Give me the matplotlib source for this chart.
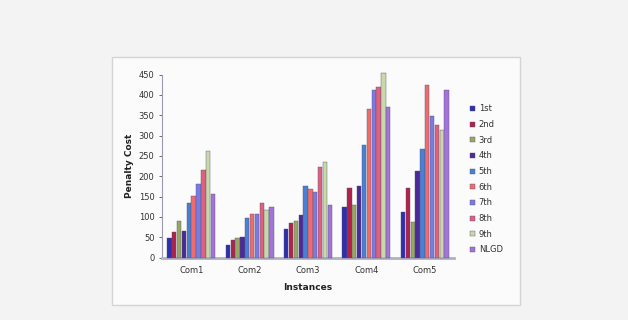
import numpy as np
import matplotlib
matplotlib.use('Agg')
import matplotlib.pyplot as plt
from matplotlib.patches import Rectangle

instances = ['Com1', 'Com2', 'Com3', 'Com4', 'Com5']
series_names = ['1st', '2nd', '3rd', '4th', '5th', '6th', '7th', '8th', '9th', 'NLGD']

# rows = series, columns = instances
cost_1st = [48, 30, 71, 124, 112]
cost_2nd = [64, 44, 85, 170, 170]
cost_3rd = [89, 47, 91, 129, 87]
cost_4th = [66, 51, 104, 176, 212]
cost_5th = [135, 97, 177, 276, 268]
cost_6th = [152, 107, 168, 365, 425]
cost_7th = [181, 108, 162, 412, 348]
cost_8th = [216, 134, 222, 420, 326]
cost_9th = [261, 116, 235, 453, 313]
cost_nlgd = [157, 124, 129, 371, 411]

all_costs = [cost_1st, cost_2nd, cost_3rd, cost_4th, cost_5th,
             cost_6th, cost_7th, cost_8th, cost_9th, cost_nlgd]

colors = ['#2e2fae', '#b3204c', '#98a85e', '#4b2a98', '#4a7fd6',
          '#f06c6c', '#7a7be2', '#e0607e', '#c9d7a9', '#a274d8']

fig = plt.figure(figsize=(6.28, 3.2), dpi=100)
fig.patch.set_facecolor('#f3f3f3')

# slide frame
frame = Rectangle((112 / 628, 1 - 305 / 320), (520 - 112) / 628, (305 - 57) / 320,
                  transform=fig.transFigure, facecolor='#fbfbfb',
                  edgecolor='#d4d4d4', linewidth=1.0, zorder=-10)
fig.patches.append(frame)

ax = fig.add_axes([0.258, 0.195, 0.465, 0.572])
ax.set_facecolor('none')

x = np.arange(len(instances))
n = len(series_names)
step = 0.083
for i, (name, vals) in enumerate(zip(series_names, all_costs)):
    offs = (i - (n - 1) / 2) * step
    ax.bar(x + offs, vals, width=0.074, color=colors[i], label=name,
           edgecolor='#555577', linewidth=0.3, zorder=3, clip_on=False)

ax.set_xlim(-0.5, 4.5)
ax.set_ylim(0, 450)
ax.set_yticks(range(0, 451, 50))
ax.set_xticks(x)
ax.set_xticklabels(instances)
ax.tick_params(axis='both', labelsize=6, colors='#333333', length=2, width=0.5)
ax.tick_params(axis='x', length=0, pad=6)

for s in ['top', 'right']:
    ax.spines[s].set_visible(False)
ax.spines['left'].set_color('#9a9ab0')
ax.spines['bottom'].set_color('#b0b0c8')
ax.spines['left'].set_linewidth(0.8)
ax.spines['bottom'].set_linewidth(2.0)

ax.set_ylabel('Penalty Cost', fontsize=6.5, fontweight='bold', color='#222222', labelpad=3)
ax.set_xlabel('Instances', fontsize=6.5, fontweight='bold', color='#222222', labelpad=6)

ax.legend(loc='center left', bbox_to_anchor=(1.03, 0.427), frameon=False,
          fontsize=6, handlelength=0.6, handleheight=0.6, labelspacing=0.8,
          handletextpad=0.4, labelcolor='#333333')

plt.savefig('out.png', dpi=100, facecolor=fig.get_facecolor())
